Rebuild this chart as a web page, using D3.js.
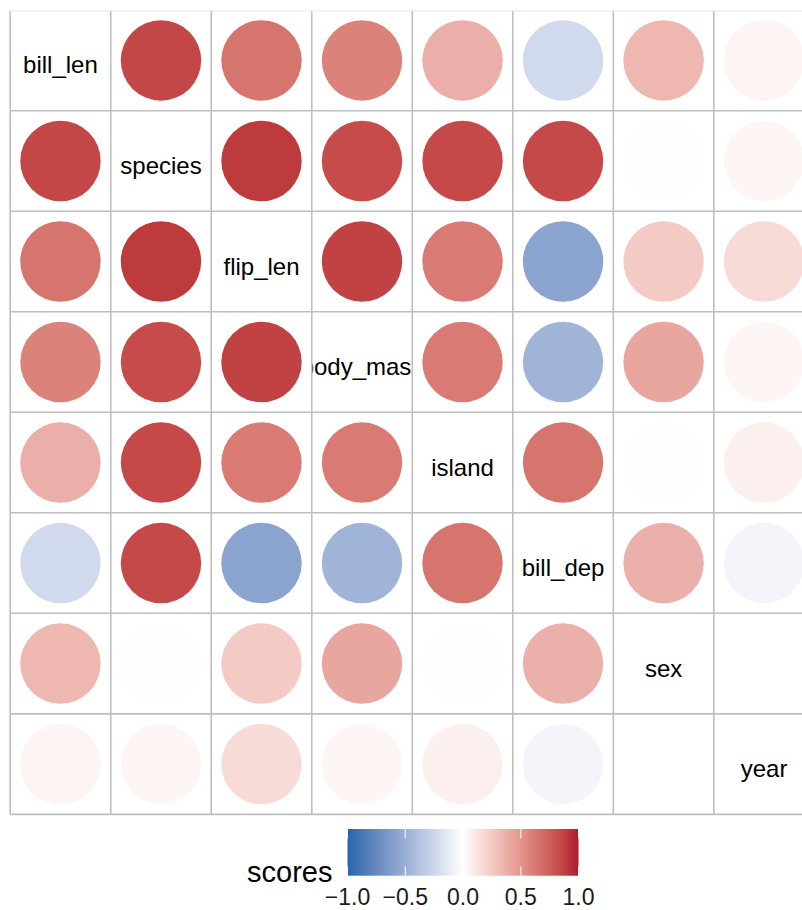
<!DOCTYPE html>
<html>
<head>
<meta charset="UTF-8">
<script src="https://d3js.org/d3.v7.min.js"></script>
<style>
  body { margin: 0; background: #fff; font-family: "Liberation Sans", Arial, sans-serif; }
  svg { display: block; }
</style>
</head>
<body>
<div id="chart"></div>
<script>
// variables (row/column order)
const vars = ["bill_len", "species", "flip_len", "body_mass", "island", "bill_dep", "sex", "year"];

// correlation scores per row, null = missing
const bill_len  = [1,    0.85, 0.65,  0.59,  0.38, -0.23, 0.34, 0.05];
const species   = [0.85, 1,    0.90,  0.83,  0.84,  0.84, 0.01, 0.04];
const flip_len  = [0.65, 0.90, 1,     0.87,  0.62, -0.58, 0.25, 0.17];
const body_mass = [0.59, 0.83, 0.87,  1,     0.62, -0.47, 0.42, 0.04];
const island    = [0.38, 0.84, 0.62,  0.62,  1,     0.65, 0.01, 0.07];
const bill_dep  = [-0.23, 0.84, -0.58, -0.47, 0.65, 1,    0.37, -0.06];
const sex       = [0.34, 0.01, 0.25,  0.42,  0.01,  0.37, 1,    null];
const year      = [0.05, 0.04, 0.17,  0.04,  0.07, -0.06, null, 1];
const rows = [bill_len, species, flip_len, body_mass, island, bill_dep, sex, year];

const legendTicks = [-1, -0.5, 0, 0.5, 1];

const W = 802, H = 910;
const x0 = 10.2, cell = 100.52;

const svg = d3.select("#chart").append("svg")
  .attr("width", W).attr("height", H);

const x = d3.scaleBand().domain(vars).range([x0, x0 + 8 * cell]);
const y = d3.scaleBand().domain(vars).range([x0, x0 + 8 * cell]);

const color = d3.scaleLinear()
  .domain([-1, 0, 1])
  .range(["#2166AC", "#FFFFFF", "#B2182B"])
  .interpolate(d3.interpolateLab);

const cells = [];
rows.forEach((r, i) => r.forEach((v, j) => cells.push({row: vars[i], col: vars[j], v: v, diag: i === j})));

// clip paths per diagonal cell
const defs = svg.append("defs");
vars.forEach(d => {
  defs.append("clipPath").attr("id", "clip-" + d)
    .append("rect")
    .attr("x", x(d)).attr("y", y(d))
    .attr("width", x.bandwidth()).attr("height", y.bandwidth());
});

// circles
svg.append("g").selectAll("circle")
  .data(cells.filter(d => !d.diag && d.v !== null))
  .join("circle")
  .attr("cx", d => x(d.col) + x.bandwidth() / 2)
  .attr("cy", d => y(d.row) + y.bandwidth() / 2)
  .attr("r", x.bandwidth() * 0.4)
  .attr("fill", d => color(d.v));

// diagonal labels
svg.append("g").selectAll("text")
  .data(vars)
  .join("text")
  .attr("clip-path", d => `url(#clip-${d})`)
  .attr("x", d => x(d) + x.bandwidth() / 2)
  .attr("y", d => y(d) + y.bandwidth() / 2 + 13)
  .attr("text-anchor", "middle")
  .style("font-size", "24px")
  .attr("fill", "#000")
  .text(d => d);

// grid lines
const edges = d3.range(9).map(i => x0 + i * cell);
const grid = svg.append("g");
grid.selectAll("line.v").data(edges).join("line")
  .attr("class", "v")
  .attr("x1", d => d).attr("x2", d => d)
  .attr("y1", x0 + 0.5).attr("y2", x0 + 8 * cell)
  .attr("stroke", "#bebebe").attr("stroke-width", 1.6);
grid.selectAll("line.h").data(edges.slice(1)).join("line")
  .attr("class", "h")
  .attr("x1", x0).attr("x2", x0 + 8 * cell)
  .attr("y1", d => d).attr("y2", d => d)
  .attr("stroke", "#bebebe").attr("stroke-width", 1.6);
grid.append("line")
  .attr("x1", x0).attr("x2", x0 + 8 * cell)
  .attr("y1", x0 + 0.8).attr("y2", x0 + 0.8)
  .attr("stroke", "#e8e8e8").attr("stroke-width", 1.2);

// legend
const lx = d3.scaleLinear().domain([-1, 1]).range([347.5, 578.5]);
const barTop = 829, barH = 46.7;
const grad = defs.append("linearGradient").attr("id", "grad");
d3.range(0, 1.0001, 0.05).forEach(t => {
  grad.append("stop").attr("offset", t).attr("stop-color", color(-1 + 2 * t));
});
const lg = svg.append("g");
lg.append("rect")
  .attr("x", lx(-1)).attr("y", barTop)
  .attr("width", lx(1) - lx(-1)).attr("height", barH)
  .attr("fill", "url(#grad)");
lg.selectAll("line.t1").data(legendTicks).join("line")
  .attr("x1", d => lx(d)).attr("x2", d => lx(d))
  .attr("y1", barTop).attr("y2", barTop + barH / 5)
  .attr("stroke", "#fff").attr("stroke-width", 1);
lg.selectAll("line.t2").data(legendTicks).join("line")
  .attr("x1", d => lx(d)).attr("x2", d => lx(d))
  .attr("y1", barTop + barH * 4 / 5).attr("y2", barTop + barH)
  .attr("stroke", "#fff").attr("stroke-width", 1);
lg.selectAll("text.tick").data(legendTicks).join("text")
  .attr("class", "tick")
  .attr("x", d => lx(d))
  .attr("y", 905)
  .attr("text-anchor", "middle")
  .style("font-size", "23px")
  .attr("fill", "#1a1a1a")
  .text(d => d3.format(".1f")(d).replace("-", "\u2212"));
lg.append("text")
  .attr("x", 247).attr("y", 882)
  .style("font-size", "29px")
  .attr("fill", "#000")
  .text("scores");
</script>
</body>
</html>
